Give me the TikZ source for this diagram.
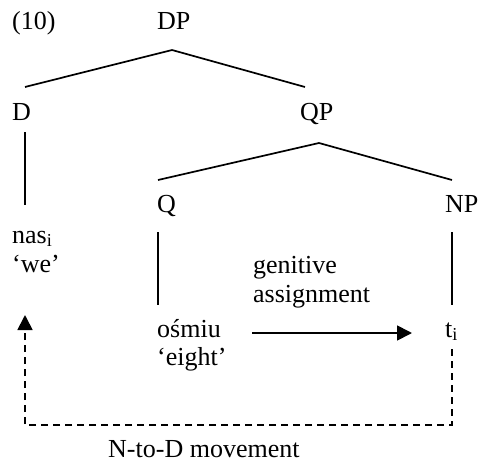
\documentclass[tikz,border=0pt]{standalone}
\usepackage{fontspec}
\setmainfont{Liberation Serif}
\usetikzlibrary{arrows.meta}
\begin{document}
\begin{tikzpicture}[x=1pt,y=-1pt,
  lbl/.style={anchor=base west,inner sep=0pt,font=\fontsize{26}{29}\selectfont},
  branch/.style={line width=1.7pt},
  mvline/.style={line width=1.7pt,dash pattern=on 7pt off 5pt},
  tip/.style={-{Triangle[length=15pt,width=15pt]}}]
\useasboundingbox (0,0) rectangle (479,463);
% labels
\node[lbl] (ex) at (12,29) {(10)};
\node[lbl] (dp) at (157,29) {DP};
\node[lbl] (d) at (12,120) {D};
\node[lbl] (qp) at (300,120) {QP};
\node[lbl] (q) at (157,212) {Q};
\node[lbl] (np) at (445,212) {NP};
\node[lbl] (nas) at (12,243) {nas\textsubscript{i}};
\node[lbl] (we) at (12,272) {‘we’};
\node[lbl] (gen) at (253,273) {genitive};
\node[lbl] (asg) at (253,302) {assignment};
\node[lbl] (osmiu) at (157,337) {ośmiu};
\node[lbl] (eight) at (157,365) {‘eight’};
\node[lbl] (ti) at (445,337) {t\textsubscript{i}};
\node[lbl] (mv) at (108,457) {N-to-D movement};
% branch end points
\coordinate (dp-b) at (172,50);
\coordinate (d-t) at (25,87);
\coordinate (qp-t) at (305,87);
\coordinate (qp-b) at (319,143);
\coordinate (q-t) at (158,180);
\coordinate (np-t) at (452,180);
\coordinate (d-b) at (25,132);
\coordinate (nas-t) at (25,205);
\coordinate (q-b) at (158,232);
\coordinate (osmiu-t) at (158,305);
\coordinate (np-b) at (452,232);
\coordinate (ti-t) at (452,305);
\coordinate (ga-s) at (252,333);
\coordinate (ga-e) at (412,333);
\coordinate (ti-b) at (452,349);
\coordinate (mv-r) at (452,425);
\coordinate (mv-l) at (25,425);
\coordinate (we-b) at (25,315);
% tree
\draw[branch] (d-t) -- (dp-b) -- (qp-t);
\draw[branch] (q-t) -- (qp-b) -- (np-t);
\draw[branch] (d-b) -- (nas-t);
\draw[branch] (q-b) -- (osmiu-t);
\draw[branch] (np-b) -- (ti-t);
% genitive assignment
\draw[branch,tip] (ga-s) -- (ga-e);
% movement
\draw[mvline,tip] (ti-b) -- (mv-r) -- (mv-l) -- (we-b);
\end{tikzpicture}
\end{document}
